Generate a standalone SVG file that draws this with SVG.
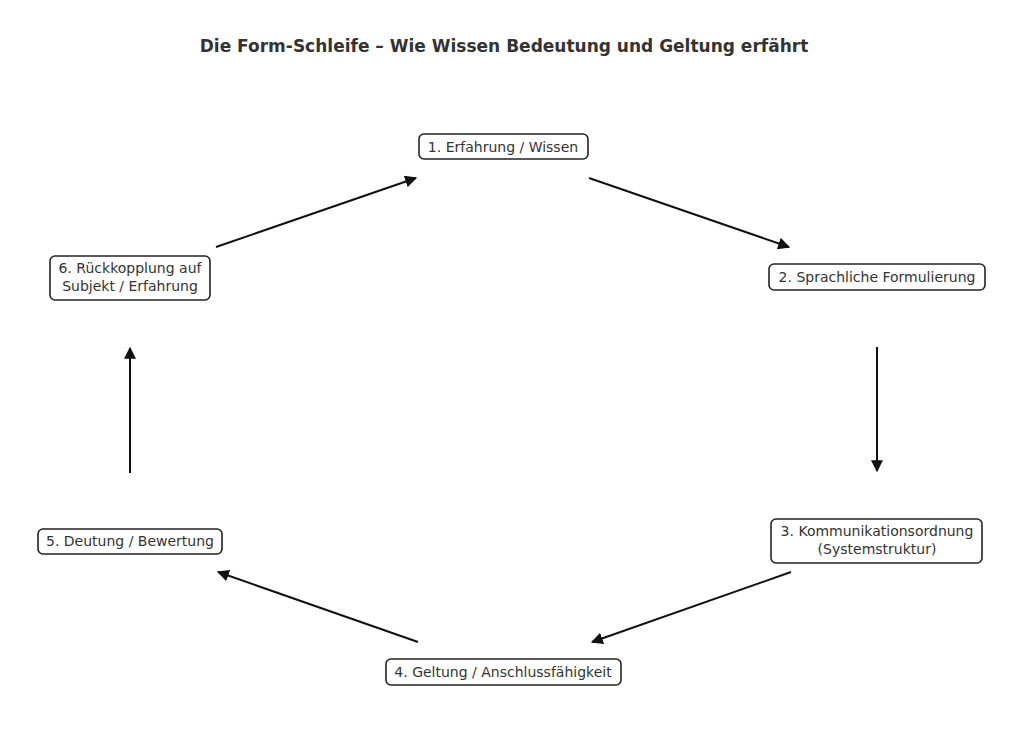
<svg xmlns="http://www.w3.org/2000/svg" width="1024" height="745" viewBox="0 0 1024 745">
<style>
.n rect{fill:#fff;stroke:#222;stroke-width:1.6}
text{font-family:"DejaVu Sans",sans-serif;font-size:14px;fill:#333;text-anchor:middle}
.c line{stroke:#111;stroke-width:2;marker-end:url(#a)}
</style>
<defs><marker id="a" viewBox="0 0 10 10" refX="9" refY="5" markerWidth="6" markerHeight="6" orient="auto"><path d="M0,0 L10,5 L0,10 z" fill="#111"/></marker></defs>
<rect width="1024" height="745" fill="#fff"/>
<text x="504" y="52" style="font-size:17px;font-weight:bold">Die Form-Schleife – Wie Wissen Bedeutung und Geltung erfährt</text>
<g id="n1" class="n"><rect x="419" y="134" width="169" height="25" rx="5"/><text x="503" y="152">1. Erfahrung / Wissen</text></g>
<g id="n2" class="n"><rect x="769" y="264" width="216" height="26" rx="5"/><text x="877" y="282">2. Sprachliche Formulierung</text></g>
<g id="n3" class="n"><rect x="771" y="519" width="211" height="44" rx="5"/><text x="877" y="536">3. Kommunikationsordnung</text><text x="877" y="554">(Systemstruktur)</text></g>
<g id="n4" class="n"><rect x="386" y="659" width="235" height="26" rx="5"/><text x="503" y="677">4. Geltung / Anschlussfähigkeit</text></g>
<g id="n5" class="n"><rect x="38" y="529" width="184" height="25" rx="5"/><text x="130" y="546">5. Deutung / Bewertung</text></g>
<g id="n6" class="n"><rect x="50" y="256" width="160" height="44" rx="5"/><text x="130" y="273">6. Rückkopplung auf</text><text x="130" y="291">Subjekt / Erfahrung</text></g>
<g class="c">
<line x1="589" y1="178" x2="789" y2="247"/>
<line x1="877" y1="347" x2="877" y2="471"/>
<line x1="791" y1="572" x2="592" y2="642"/>
<line x1="418" y1="642" x2="218" y2="572"/>
<line x1="130" y1="473" x2="130" y2="348"/>
<line x1="216" y1="247" x2="416" y2="178"/>
</g>
</svg>
